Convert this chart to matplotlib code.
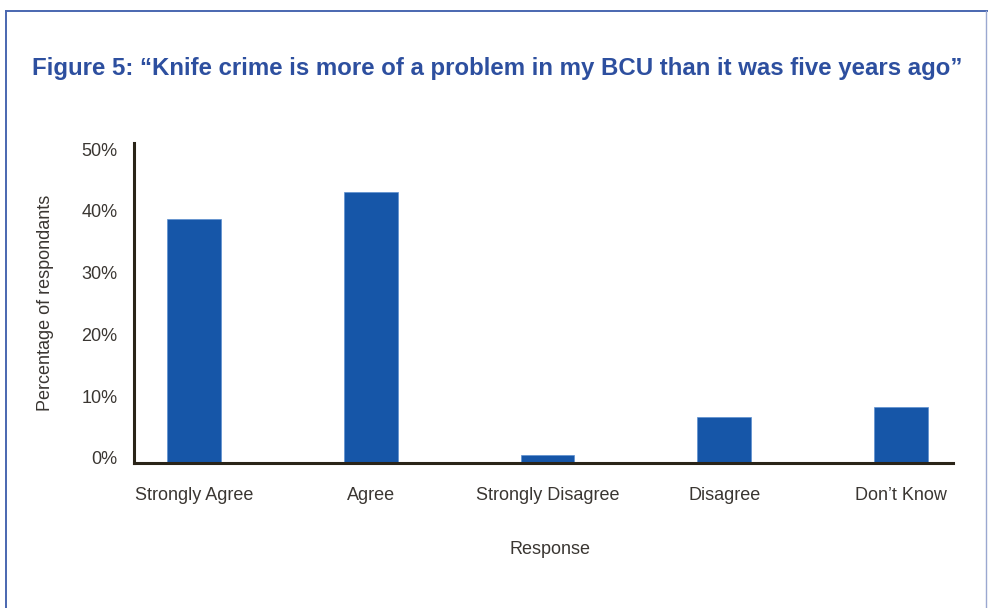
import matplotlib
matplotlib.use("Agg")
import matplotlib.pyplot as plt
from matplotlib.lines import Line2D
import matplotlib.transforms as mtransforms

categories = ["Strongly Agree", "Agree", "Strongly Disagree", "Disagree", "Don\u2019t Know"]
values = [39.5, 43.9, 1.3, 7.5, 9.1]
yticks = [0, 10, 20, 30, 40, 50]
ytick_labels = ["0%", "10%", "20%", "30%", "40%", "50%"]

W, H = 988, 608
plt.rcParams['font.family'] = ['Liberation Sans', 'DejaVu Sans']
fig = plt.figure(figsize=(W / 100, H / 100), dpi=100)

blue = "#1656a8"
title_blue = "#2d4f9f"
text_col = "#3a3632"
spine_col = "#2a2418"

def fx(px):
    return px / W

def fy(py):
    return 1 - py / H

# frame lines
frame_col = "#4a67b0"
fig.add_artist(Line2D([fx(6), fx(6)], [fy(11), 0], transform=fig.transFigure, color=frame_col, lw=1.4))
fig.add_artist(Line2D([fx(6), fx(988)], [fy(11), fy(11)], transform=fig.transFigure, color=frame_col, lw=1.4))
fig.add_artist(Line2D([fx(986), fx(986)], [fy(11), 0], transform=fig.transFigure, color="#9aa8d0", lw=1.0))

fig.text(fx(497), fy(68), "Figure 5: \u201cKnife crime is more of a problem in my BCU than it was five years ago\u201d",
         ha="center", va="center", fontsize=17.3, fontweight="bold", color=title_blue)

left, right, top, bottom = 134, 953, 143, 463
ax = fig.add_axes([fx(left), fy(bottom), fx(right - left), (bottom - top) / H])

x = list(range(len(categories)))
ax.bar(x, values, width=0.305, color=blue, edgecolor="#5d8fd0", linewidth=0.5, zorder=2)

ax.set_xlim(-0.339, 4.294)
ax.set_ylim(0, 51.8)
ax.set_yticks(yticks)
ax.set_yticklabels(ytick_labels)
ax.set_xticks(x)
ax.set_xticklabels(categories)

for s in ["top", "right"]:
    ax.spines[s].set_visible(False)
for s in ["left", "bottom"]:
    ax.spines[s].set_color(spine_col)
    ax.spines[s].set_linewidth(2.2)

ax.tick_params(axis="both", length=0, labelsize=13, colors=text_col)
ax.tick_params(axis="y", pad=12)
ax.tick_params(axis="x", pad=17)

offset = mtransforms.ScaledTranslation(0, 5 / 100, fig.dpi_scale_trans)
for lab in ax.get_yticklabels():
    lab.set_transform(lab.get_transform() + offset)

fig.text(fx(46), fy(303), "Percentage of respondants", rotation=90, ha="center", va="center",
         fontsize=13, color=text_col)
fig.text(fx(550), fy(549), "Response", ha="center", va="center", fontsize=13, color=text_col)

fig.savefig("out.png", dpi=100)
